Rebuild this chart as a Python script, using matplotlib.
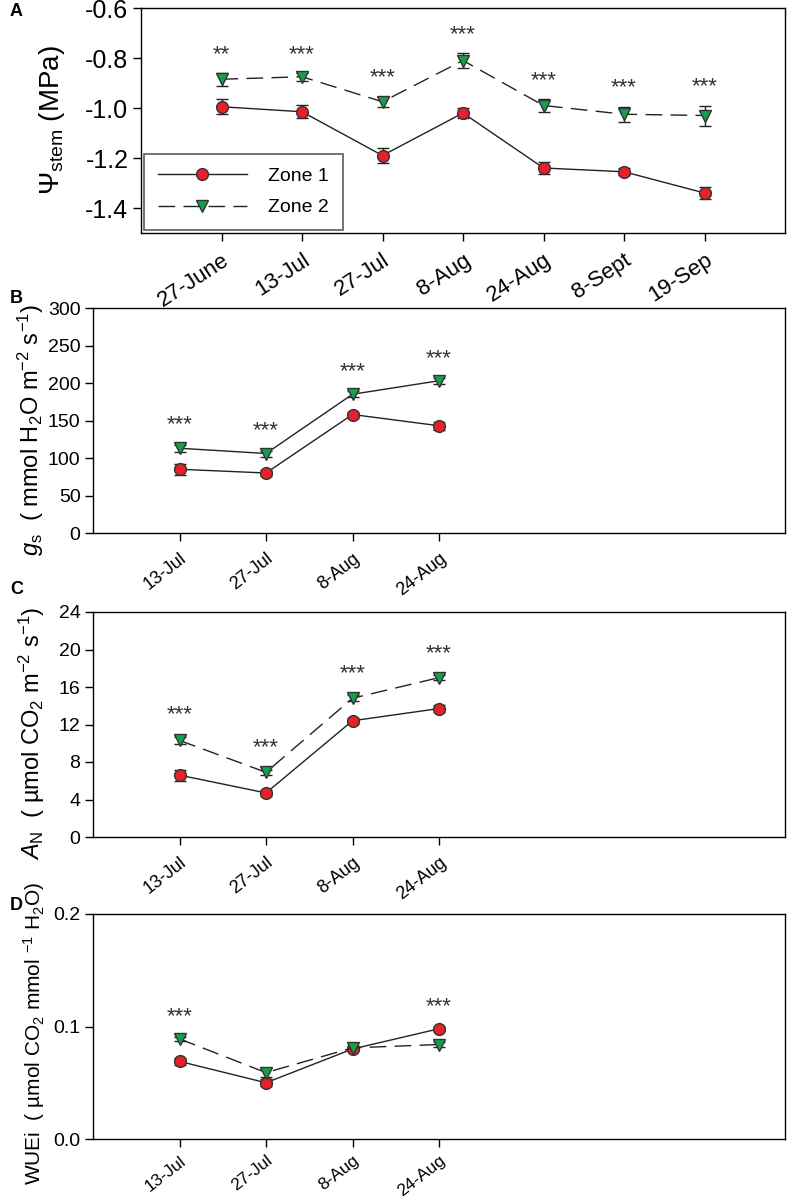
import matplotlib
matplotlib.use("Agg")
import matplotlib.pyplot as plt
from matplotlib.lines import Line2D
import numpy as np

plt.rcParams['font.family'] = ['Liberation Sans', 'DejaVu Sans']
plt.rcParams['mathtext.fontset'] = 'custom'
plt.rcParams['mathtext.rm'] = 'Liberation Sans'
plt.rcParams['mathtext.it'] = 'Liberation Sans:italic'

# panel A: stem water potential
dates_a = ['27-June', '13-Jul', '27-Jul', '8-Aug', '24-Aug', '8-Sept', '19-Sep']
psi_z1 = [-0.995, -1.015, -1.19, -1.02, -1.24, -1.255, -1.34]
psi_z1_err = [0.03, 0.025, 0.03, 0.02, 0.025, 0.015, 0.025]
psi_z2 = [-0.885, -0.875, -0.975, -0.81, -0.99, -1.025, -1.03]
psi_z2_err = [0.025, 0.015, 0.02, 0.03, 0.025, 0.03, 0.04]
psi_sig = ['**', '***', '***', '***', '***', '***', '***']

# panels B-D
dates_b = ['13-Jul', '27-Jul', '8-Aug', '24-Aug']
gs_z1 = [85, 80, 158, 143]
gs_z1_err = [7, 4, 4, 5]
gs_z2 = [113, 106, 185, 203]
gs_z2_err = [5, 4, 4, 4]
gs_sig = ['***', '***', '***', '***']

an_z1 = [6.6, 4.7, 12.4, 13.7]
an_z1_err = [0.6, 0.3, 0.3, 0.4]
an_z2 = [10.3, 6.9, 14.8, 17.0]
an_z2_err = [0.4, 0.3, 0.3, 0.3]
an_sig = ['***', '***', '***', '***']

wue_z1 = [0.069, 0.050, 0.080, 0.098]
wue_z1_err = [0.003, 0.003, 0.002, 0.002]
wue_z2 = [0.089, 0.059, 0.081, 0.084]
wue_z2_err = [0.002, 0.004, 0.002, 0.002]
wue_sig = ['***', '', '', '***']

red = '#e8202a'
green = '#14a04a'
edge = '#333333'
dash = (0, (12, 6))

W, H = 787, 1201
fig = plt.figure(figsize=(W / 100, H / 100), dpi=100)


def make_ax(left, top, right, bottom):
    return fig.add_axes([left / W, 1 - bottom / H, (right - left) / W, (bottom - top) / H])


def draw(ax, labels, z1, e1, z2, e2, sig, off, z2_dash, rot, xsize, ysize, xpad=6):
    x = np.arange(1, len(labels) + 1)
    ls2 = dash if z2_dash else '-'
    ax.errorbar(x, z1, yerr=e1, color='#222222', lw=1, ls='-', marker='o', ms=8.5,
                mfc=red, mec=edge, mew=1, capsize=4.5, ecolor='#222222', elinewidth=1,
                zorder=3)
    ax.errorbar(x, z2, yerr=e2, color='#222222', lw=1, ls=ls2, marker='v', ms=9,
                mfc=green, mec=edge, mew=1, capsize=4.5, ecolor='#222222', elinewidth=1,
                zorder=3)
    for xi, a, ea, b, eb, s in zip(x, z1, e1, z2, e2, sig):
        if s:
            top = max(a + ea, b + eb)
            ax.text(xi, top + off, s, ha='center', va='center', fontsize=16, color='#333333')
    ax.set_xlim(0, 8)
    ax.set_xticks(x)
    ax.set_xticklabels(labels, rotation=rot, ha='right', rotation_mode='anchor', fontsize=xsize)
    ax.tick_params(direction='out', length=6, width=1)
    ax.tick_params(axis='x', pad=xpad)
    ax.tick_params(axis='y', labelsize=ysize, pad=3)
    for sp in ax.spines.values():
        sp.set_linewidth(1)
    return ax


# A
axA = make_ax(141, 8, 785, 233)
draw(axA, dates_a, psi_z1, psi_z1_err, psi_z2, psi_z2_err, psi_sig, 0.075, True, 33, 16, 18)
axA.set_ylim(-1.5, -0.6)
axA.set_yticks([-0.6, -0.8, -1.0, -1.2, -1.4])
axA.set_yticklabels(['-0.6', '-0.8', '-1.0', '-1.2', '-1.4'])
axA.set_ylabel(r'$\mathregular{\Psi}_{\mathregular{stem}}$ (MPa)', fontsize=20)
axA.yaxis.set_label_coords(-0.115, 0.5)
handles = [Line2D([], [], color='#222222', lw=1, marker='o', ms=8.5, mfc=red, mec=edge),
           Line2D([], [], color='#222222', lw=1, ls=dash, marker='v', ms=9, mfc=green, mec=edge)]
leg = axA.legend(handles, ['Zone 1', 'Zone 2'], loc='lower left', fontsize=14,
                 handlelength=4.6, fancybox=False, edgecolor='#333333', borderpad=0.7,
                 labelspacing=0.7, handletextpad=1.1, borderaxespad=0.15)
leg.get_frame().set_linewidth(1.2)

# B
axB = make_ax(93, 308, 785, 533)
draw(axB, dates_b, gs_z1, gs_z1_err, gs_z2, gs_z2_err, gs_sig, 26, False, 38, 13, 14)
axB.set_ylim(0, 300)
axB.set_yticks(np.arange(0, 301, 50))
axB.set_ylabel(r'$g_{\mathregular{s}}$  ( mmol H$_{\mathregular{2}}$O m$^{\mathregular{-2}}$ s$^{\mathregular{-1}}$)',
               fontsize=17)
axB.yaxis.set_label_coords(-0.068, 0.46)

# C
axC = make_ax(93, 612, 785, 837)
draw(axC, dates_b, an_z1, an_z1_err, an_z2, an_z2_err, an_sig, 2.3, True, 38, 13, 14)
axC.set_ylim(0, 24)
axC.set_yticks(np.arange(0, 25, 4))
axC.set_ylabel(r'$A_{\mathregular{N}}$  ( µmol CO$_{\mathregular{2}}$ m$^{\mathregular{-2}}$ s$^{\mathregular{-1}}$)',
               fontsize=17)
axC.yaxis.set_label_coords(-0.066, 0.46)

# D
axD = make_ax(93, 914, 785, 1139)
draw(axD, dates_b, wue_z1, wue_z1_err, wue_z2, wue_z2_err, wue_sig, 0.018, True, 38, 12.5, 14,
     xpad=4)
axD.set_ylim(0, 0.2)
axD.set_yticks([0.0, 0.1, 0.2])
axD.set_yticklabels(['0.0', '0.1', '0.2'])
axD.set_ylabel(r'WUEi  ( µmol CO$_{\mathregular{2}}$ mmol $^{\mathregular{-1}}$ H$_{\mathregular{2}}$O)',
               fontsize=15)
axD.yaxis.set_label_coords(-0.066, 0.47)

for lab, y in [('A', 12), ('B', 298), ('C', 590), ('D', 905)]:
    fig.text(10 / W, 1 - y / H, lab, fontsize=13, fontweight='bold', va='center', ha='left')

fig.savefig('out.png', dpi=100)
